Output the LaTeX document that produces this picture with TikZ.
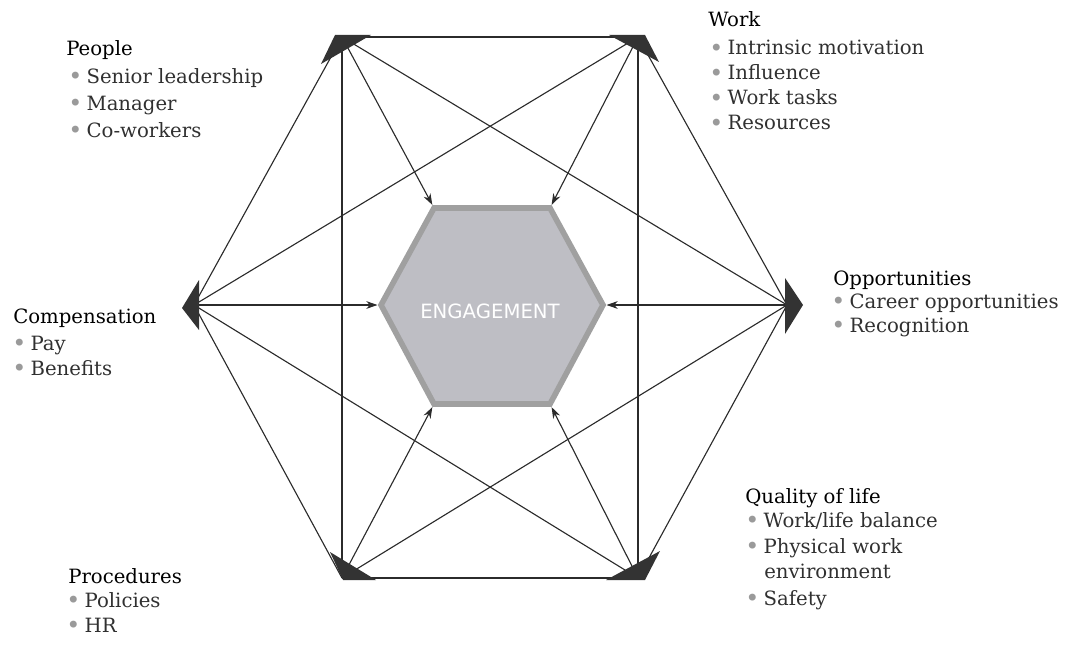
\documentclass[tikz,border=0pt]{standalone}
\usepackage{fontspec}
\setmainfont{DejaVu Serif}
\newfontfamily\engfont{DejaVu Sans}
\usetikzlibrary{arrows.meta}
\definecolor{linec}{HTML}{2B2B2B}
\definecolor{markc}{HTML}{333333}
\definecolor{innerfill}{HTML}{BEBEC4}
\definecolor{innerborder}{HTML}{A0A0A0}
\definecolor{bulc}{HTML}{9A9A9A}
\definecolor{txtc}{HTML}{303030}
\newcommand\bul{\raisebox{-1.2pt}{\color{bulc}\fontsize{17}{16}\selectfont•}\hspace{3pt}}
\begin{document}
\begin{tikzpicture}[x=0.025cm,y=-0.025cm,
  edge/.style={draw=linec,line width=0.8pt},
  arr/.style={edge,-{Stealth[length=8pt,width=5.5pt]},shorten >=2.5pt},
  vmark/.style={fill=markc},
  head/.style={anchor=base west,inner sep=0pt,font=\fontsize{14}{16}\selectfont,text=black},
  item/.style={anchor=base west,inner sep=0pt,font=\fontsize{14}{16}\selectfont,text=txtc}]
\useasboundingbox (0,0) rectangle (1071,644);
% outer vertices
\coordinate (oTL) at (342,37);
\coordinate (oTR) at (638,37);
\coordinate (oR)  at (787,305);
\coordinate (oBR) at (638,578);
\coordinate (oBL) at (342,578);
\coordinate (oL)  at (194,305);
% inner vertices
\coordinate (iTL) at (434,208);
\coordinate (iTR) at (550,208);
\coordinate (iR)  at (603,305);
\coordinate (iBR) at (550,404);
\coordinate (iBL) at (434,404);
\coordinate (iL)  at (381,305);
% hexagon edges
\draw[edge] (oTL) -- (oTR);
\draw[edge] (oTR) -- (oR);
\draw[edge] (oR) -- (oBR);
\draw[edge] (oBR) -- (oBL);
\draw[edge] (oBL) -- (oL);
\draw[edge] (oL) -- (oTL);
% short diagonals
\draw[edge] (oTL) -- (oR);
\draw[edge] (oTR) -- (oBR);
\draw[edge] (oR) -- (oBL);
\draw[edge] (oBR) -- (oL);
\draw[edge] (oBL) -- (oTL);
\draw[edge] (oL) -- (oTR);
% arrows to centre
\draw[arr] (oTL) -- (iTL);
\draw[arr] (oTR) -- (iTR);
\draw[arr] (oR) -- (iR);
\draw[arr] (oBR) -- (iBR);
\draw[arr] (oBL) -- (iBL);
\draw[arr] (oL) -- (iL);
% inner hexagon
\draw[innerborder,line width=4pt,fill=innerfill,line join=miter]
  (iTL) -- (iTR) -- (iR) -- (iBR) -- (iBL) -- (iL) -- cycle;
\node[inner sep=0pt,text=white,font=\engfont\fontsize{14}{16}\selectfont] (eng) at (490,311) {ENGAGEMENT};
% vertex markers
\fill[vmark] (335,35) -- (371,35) -- (321,64) -- cycle;
\fill[vmark] (609,35) -- (645,35) -- (659,62) -- cycle;
\fill[vmark] (785,278) -- (785,334) -- (803,305) -- cycle;
\fill[vmark] (199,280) -- (199,330) -- (182,308) -- cycle;
\fill[vmark] (330,552) -- (343,580) -- (376,580) -- cycle;
\fill[vmark] (606,580) -- (645,580) -- (660,551) -- cycle;
% People
\node[head] (p0) at (66,56) {People};
\node[item] (p1) at (68,83) {\bul Senior leadership};
\node[item] (p2) at (68,110) {\bul Manager};
\node[item] (p3) at (68,137) {\bul Co-workers};
% Work
\node[head] (w0) at (708,27) {Work};
\node[item] (w1) at (709,55) {\bul Intrinsic motivation};
\node[item] (w2) at (709,80) {\bul Influence};
\node[item] (w3) at (709,105) {\bul Work tasks};
\node[item] (w4) at (709,130) {\bul Resources};
% Opportunities
\node[head] (op0) at (833,285) {Opportunities};
\node[item] (op1) at (831,308) {\bul Career opportunities};
\node[item] (op2) at (831,332) {\bul Recognition};
% Compensation
\node[head] (c0) at (13,323) {Compensation};
\node[item] (c1) at (12,350) {\bul Pay};
\node[item] (c2) at (12,375) {\bul Benefits};
% Procedures
\node[head] (pr0) at (68,583) {Procedures};
\node[item] (pr1) at (66,607) {\bul Policies};
\node[item] (pr2) at (66,632) {\bul HR};
% Quality of life
\node[head] (q0) at (745,503) {Quality of life};
\node[item] (q1) at (745,527) {\bul Work/life balance};
\node[item] (q2) at (745,553) {\bul Physical work};
\node[item] (q3) at (764,578) {environment};
\node[item] (q4) at (745,605) {\bul Safety};
\end{tikzpicture}
\end{document}
